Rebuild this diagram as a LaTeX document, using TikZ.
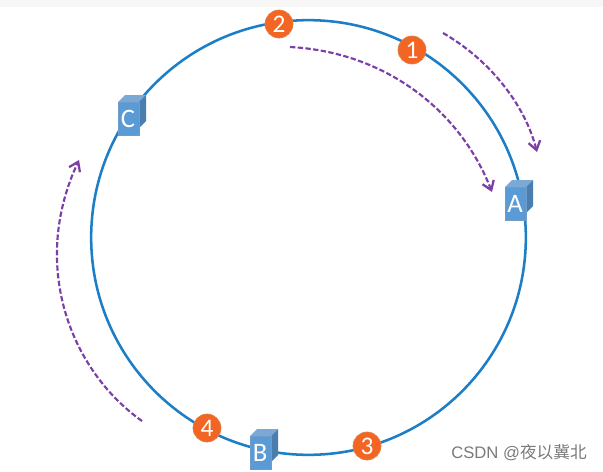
\documentclass[tikz,border=0pt]{standalone}
\usepackage{fontspec}
\setmainfont{Carlito}
\newfontfamily\wmfont{Liberation Sans}
\newfontfamily\wmcjk{Noto Sans CJK SC}
\usetikzlibrary{arrows.meta}
\definecolor{ringblue}{HTML}{1C7EC6}
\definecolor{frontblue}{HTML}{5B9BD5}
\definecolor{topblue}{HTML}{7CA8D6}
\definecolor{sideblue}{HTML}{4A7EAF}
\definecolor{edgeblue}{HTML}{6F9CCB}
\definecolor{orangefill}{HTML}{F26522}
\definecolor{orangeedge}{HTML}{E0824E}
\definecolor{purplearrow}{HTML}{7B3FA6}
\tikzset{
  ring/.style={draw=ringblue,line width=1.9pt},
  flow/.style={draw=purplearrow,line width=1.6pt,dash pattern=on 4pt off 1.8pt,-{Straight Barb[length=6.5pt,width=9pt,line width=1.7pt]}},
  badge/.style={circle,fill=orangefill,draw=orangeedge,line width=.5pt,minimum size=21pt,inner sep=0pt,text=white,font=\fontsize{19}{19}\selectfont},
  boxlabel/.style={text=white,inner sep=0pt,font=\fontsize{20}{20}\selectfont},
  wm/.style={text=black!52,inner sep=0pt,font=\fontsize{12.5}{12.5}\selectfont}
}
\newcommand{\serverbox}[4]{% x0 y0 name label
  \fill[topblue] (#1,#2) -- ++(7,-7) -- ++(21,0) -- ++(-7,7) -- cycle;
  \fill[sideblue] (#1+21,#2) -- ++(7,-7) -- ++(0,26) -- ++(-7,7) -- cycle;
  \node[draw=edgeblue,fill=frontblue,line width=.4pt,minimum width=15.75pt,minimum height=24.75pt,inner sep=0pt,anchor=north west] (#3) at (#1,#2) {};
  \node[boxlabel] at (#1+10,#2+17) {#4};
}
\begin{document}
\begin{tikzpicture}[x=0.75pt,y=-0.75pt]
\useasboundingbox (0,0) rectangle (603,471);
\fill[white] (0,0) rectangle (603,471);
\fill[black!3] (0,0) rectangle (603,7);
\node[circle,ring,minimum size=326pt,inner sep=0pt] (hub) at (308.5,237.5) {};
\serverbox{505}{187}{srvA}{A}
\serverbox{250}{436}{srvB}{B}
\serverbox{118}{102}{srvC}{C}
\node[badge] (n1) at (412,50) {1};
\node[badge] (n2) at (279,24) {2};
\node[badge] (n3) at (367,446) {3};
\node[badge] (n4) at (207,428) {4};
\coordinate (a1s) at (443,33);
\coordinate (a1e) at (537,152);
\coordinate (a2s) at (290,47);
\coordinate (a2e) at (492,192);
\coordinate (a3s) at (142,421);
\coordinate (a3e) at (79,160);
\draw[flow] (a1s) .. controls (490,60) and (525,105) .. (a1e);
\draw[flow] (a2s) .. controls (385,52) and (460,110) .. (a2e);
\draw[flow] (a3s) .. controls (70,370) and (30,265) .. (a3e);
\node[wm,anchor=west] (mark) at (451,453) {{\wmfont CSDN @}{\wmcjk 夜以冀北}};
\end{tikzpicture}
\end{document}
